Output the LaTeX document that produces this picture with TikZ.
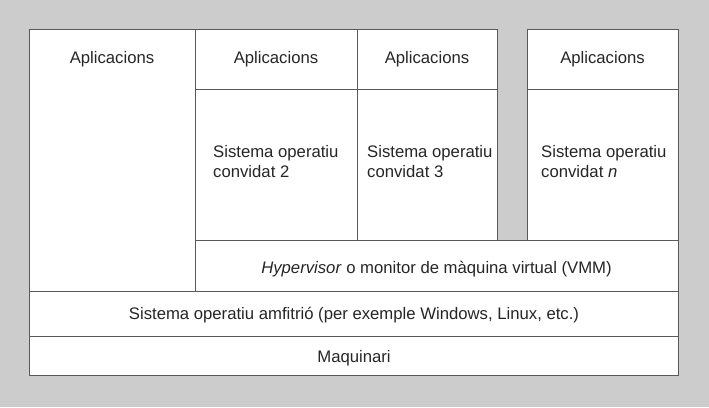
\documentclass[tikz,border=0pt]{standalone}
\usepackage{fontspec}
\setmainfont{Liberation Sans}
\definecolor{fonsgris}{HTML}{CCCCCC}
\definecolor{liniagris}{HTML}{5A5A5A}
\begin{document}
\begin{tikzpicture}
  [x=1pt,y=-1pt,
   capa/.style={draw=liniagris,fill=white,line width=0.9pt},
   every node/.style={inner sep=0pt,text=black!85,font=\fontsize{16.7}{20}\selectfont}]
  \fill[fonsgris] (0,0) rectangle (709,407);
  % capes
  \foreach \xa/\ya/\xb/\yb in {29/29/195/291, 195/29/357/89, 357/29/497/89, 527/29/678/89,
      195/89/357/240, 357/89/497/240, 527/89/678/240,
      195/240/678/291, 29/291/678/336, 29/336/678/375}
    \draw[capa] (\xa,\ya) rectangle (\xb,\yb);
  % textos
  \node[anchor=base] (app1) at (112,63) {Aplicacions};
  \node[anchor=base] (app2) at (276,63) {Aplicacions};
  \node[anchor=base] (app3) at (427,63) {Aplicacions};
  \node[anchor=base] (appn) at (602.5,63) {Aplicacions};
  \node[anchor=base west,align=left] (so2) at (213,177) {Sistema operatiu\\convidat 2};
  \node[anchor=base west,align=left] (so3) at (367,177) {Sistema operatiu\\convidat 3};
  \node[anchor=base west,align=left] (son) at (541,177) {Sistema operatiu\\convidat \textit{n}};
  \node[anchor=base] (vmm) at (436.5,273) {\textit{Hypervisor} o monitor de màquina virtual (VMM)};
  \node[anchor=base] (amf) at (354,319) {Sistema operatiu amfitrió (per exemple Windows, Linux, etc.)};
  \node[anchor=base] (maq) at (354,362) {Maquinari};
\end{tikzpicture}
\end{document}
